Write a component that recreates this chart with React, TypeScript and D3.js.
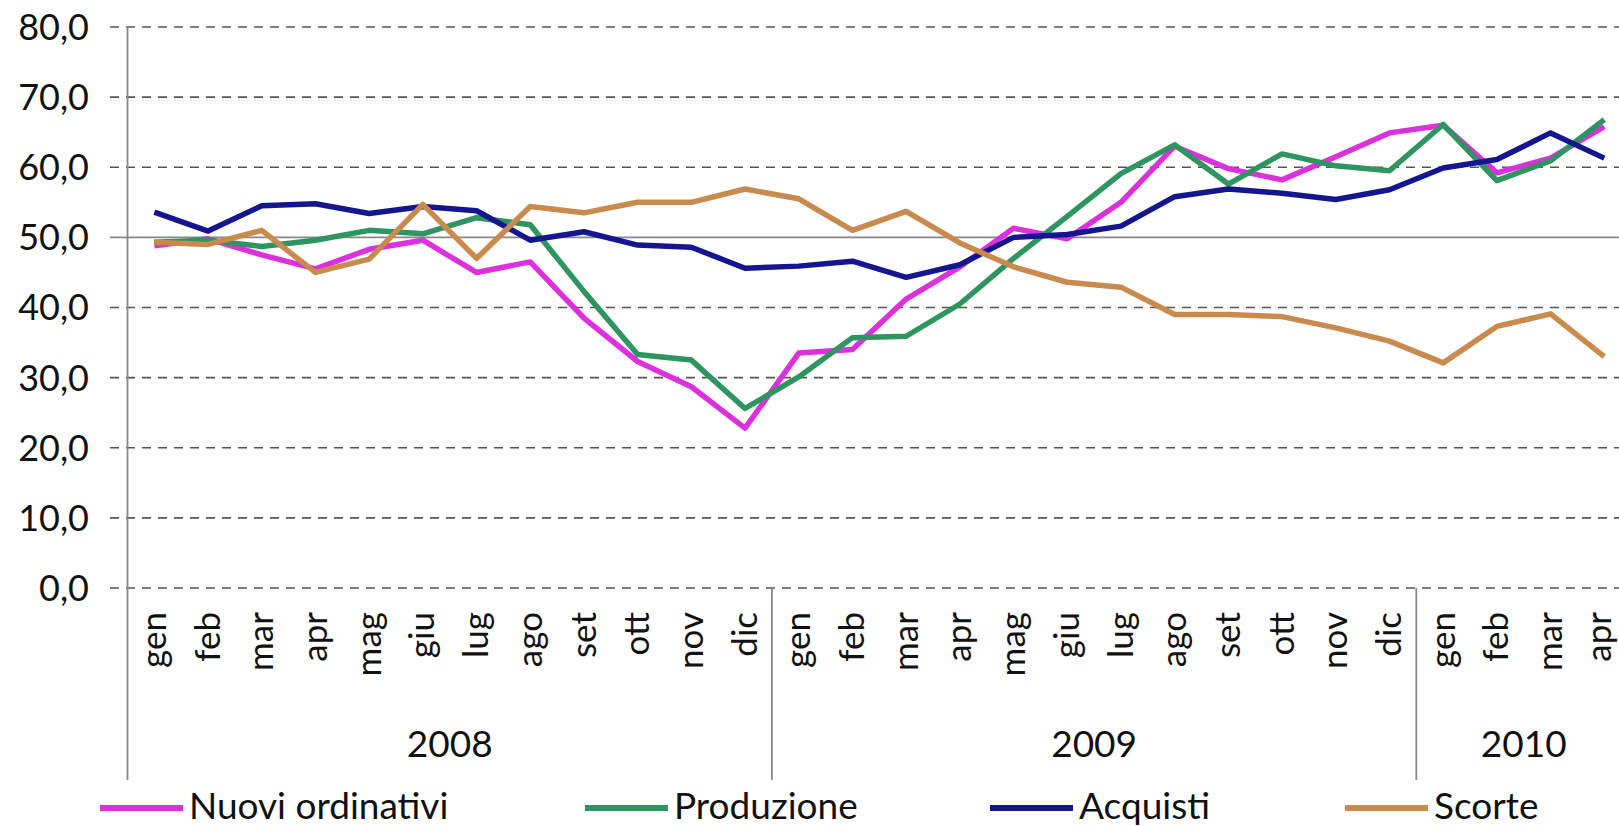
import React from "react";
import * as d3 from "d3";

const monthLabels = [
  "gen", "feb", "mar", "apr", "mag", "giu", "lug", "ago", "set", "ott", "nov", "dic",
  "gen", "feb", "mar", "apr", "mag", "giu", "lug", "ago", "set", "ott", "nov", "dic",
  "gen", "feb", "mar", "apr",
];
const yearLabels = ["2008", "2009", "2010"];
const yearMonthCounts = [12, 12, 4];

const nuoviOrdinativi = [
  48.8, 49.8, 47.5, 45.5, 48.3, 49.6, 45.0, 46.5, 38.5, 32.3, 28.7, 22.8,
  33.5, 34.0, 41.2, 45.8, 51.3, 49.8, 55.0, 63.0, 59.8, 58.2, 61.5, 64.9,
  66.0, 59.2, 61.3, 65.8,
];
const produzione = [
  49.3, 49.6, 48.7, 49.6, 51.0, 50.5, 52.8, 51.8, 42.3, 33.3, 32.5, 25.6,
  30.1, 35.7, 35.9, 40.5, 47.0, 53.0, 59.1, 63.2, 57.6, 61.9, 60.2, 59.5,
  66.1, 58.1, 60.9, 66.8,
];
const acquisti = [
  53.6, 50.9, 54.5, 54.8, 53.4, 54.4, 53.8, 49.6, 50.8, 48.9, 48.6, 45.6,
  45.9, 46.6, 44.3, 46.1, 50.0, 50.4, 51.6, 55.8, 56.9, 56.3, 55.4, 56.8,
  59.9, 61.1, 64.9, 61.3,
];
const scorte = [
  49.3, 49.0, 51.0, 45.0, 46.9, 54.7, 47.0, 54.4, 53.5, 55.0, 55.0, 56.9,
  55.5, 51.0, 53.7, 49.2, 45.8, 43.6, 42.9, 39.0, 39.0, 38.7, 37.1, 35.2,
  32.1, 37.3, 39.1, 33.0,
];

const seriesNames = ["Nuovi ordinativi", "Produzione", "Acquisti", "Scorte"];
const seriesColors = ["#DD30DD", "#2E9460", "#15158F", "#C98A4E"];
const seriesValues = [nuoviOrdinativi, produzione, acquisti, scorte];

const yTicks = [0, 10, 20, 30, 40, 50, 60, 70, 80];

const W = 1619;
const H = 826;
const FONT = "Lato, 'Open Sans', sans-serif";

export default function App() {
  const x0 = 127.5;
  const band = 53.7;
  const idx = monthLabels.map((_, i) => i);
  const x = d3
    .scaleBand<number>()
    .domain(idx)
    .range([x0, x0 + band * monthLabels.length])
    .padding(0);
  const y = d3.scaleLinear().domain([0, 80]).range([588, 27]);
  const cx = (i: number) => (x(i) as number) + x.bandwidth() / 2;

  const line = d3
    .line<number>()
    .x((_, i) => cx(i))
    .y((v) => y(v));

  const fmt = (v: number) => v.toFixed(1).replace(".", ",");

  let start = 0;
  const groups = yearLabels.map((lab, k) => {
    const s = start;
    const e = start + yearMonthCounts[k];
    start = e;
    return { lab, s, e };
  });

  const legendLineX = [100, 585, 990, 1345];
  const legendY = 808;
  // keep rotated month labels inside the picture's right edge
  const labelX = (i: number) => Math.min(cx(i), W - 20);

  return (
    <svg
      width={W}
      height={H}
      style={{ position: "absolute", left: 0, top: 0, background: "#fff" }}
      fontFamily={FONT}
    >
      <rect x={0} y={0} width={W} height={H} fill="#fff" />
      {yTicks.map((t) =>
        t === 50 ? null : (
          <line
            key={"g" + t}
            x1={110}
            x2={W}
            y1={y(t)}
            y2={y(t)}
            stroke="#555"
            strokeWidth={1.6}
            strokeDasharray="9 7"
          />
        )
      )}
      <line x1={110} x2={W} y1={y(50)} y2={y(50)} stroke="#888" strokeWidth={1.8} />
      {yTicks.map((t) => (
        <text
          key={"t" + t}
          x={89}
          y={y(t)}
          dy="0.36em"
          textAnchor="end"
          fontSize={36}
          fill="#111"
        >
          {fmt(t)}
        </text>
      ))}
      <line x1={x0} x2={x0} y1={y(80)} y2={780} stroke="#888" strokeWidth={1.8} />
      {groups.slice(1).map((g) => (
        <line
          key={"sep" + g.lab}
          x1={x(g.s) as number}
          x2={x(g.s) as number}
          y1={y(0)}
          y2={780}
          stroke="#888"
          strokeWidth={1.8}
        />
      ))}
      {monthLabels.map((m, i) => (
        <text
          key={"m" + i}
          transform={`translate(${labelX(i)},612) rotate(-90)`}
          dy="0.33em"
          textAnchor="end"
          fontSize={35}
          fill="#111"
        >
          {m}
        </text>
      ))}
      {groups.map((g) => (
        <text
          key={"y" + g.lab}
          x={((x(g.s) as number) + (x(g.e - 1) as number) + x.bandwidth()) / 2}
          y={757}
          textAnchor="middle"
          fontSize={37}
          fill="#111"
        >
          {g.lab}
        </text>
      ))}
      {seriesValues.map((vals, k) => (
        <path
          key={"s" + k}
          d={line(vals) || ""}
          fill="none"
          stroke={seriesColors[k]}
          strokeWidth={5.5}
          strokeLinejoin="round"
        />
      ))}
      {seriesNames.map((n, k) => (
        <g key={"l" + k}>
          <line
            x1={legendLineX[k]}
            x2={legendLineX[k] + 83}
            y1={legendY}
            y2={legendY}
            stroke={seriesColors[k]}
            strokeWidth={6}
          />
          <text x={legendLineX[k] + 89} y={819} fontSize={37} fill="#111">
            {n}
          </text>
        </g>
      ))}
    </svg>
  );
}
